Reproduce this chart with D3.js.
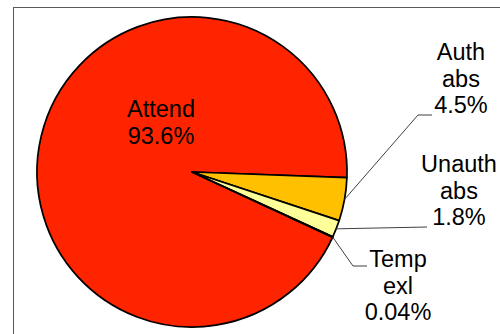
<!DOCTYPE html>
<html>
<head>
<meta charset="utf-8">
<script src="https://cdn.jsdelivr.net/npm/d3@7"></script>
<style>
  html, body { margin: 0; padding: 0; background: #fff; overflow: hidden; }
  svg { display: block; }
</style>
</head>
<body>
<svg id="chart" width="500" height="334"></svg>
<script>
// ---- data ----
const categories = ["Attend", "Auth abs", "Unauth abs", "Temp exl"];
const values = [93.6, 4.5, 1.8, 0.04];
const nameLines = [["Attend"], ["Auth", "abs"], ["Unauth", "abs"], ["Temp", "exl"]];
const colors = ["#ff2400", "#ffc000", "#ffff99", "#ffffcc"];

// ---- layout ----
const W = 500, H = 334;
const cx = 192, cy = 172, R = 155;
const startDeg = 114.9;
const fontSize = 23.5, lineH = 26.5;
// label placement: [centerX, firstBaselineY, leader polyline elbow points]
const labelPos = [
  { x: 161, y: 117, leader: null },
  { x: 461, y: 60,  leader: [[418, 115], [432, 115]] },
  { x: 459, y: 172, leader: [[427, 227]] },
  { x: 398, y: 267, leader: [[353, 266], [367, 266]] }
];

const svg = d3.select("#chart");

// plot area border (extends past the viewport on right and bottom)
svg.append("rect")
  .attr("x", 13.5).attr("y", 7.5)
  .attr("width", W + 10).attr("height", H + 10)
  .attr("fill", "#fff")
  .attr("stroke", "#595959").attr("stroke-width", 1);

const data = categories.map((c, i) => ({ name: c, value: values[i], i }));

const start = startDeg * Math.PI / 180;
const pie = d3.pie().sort(null).value(d => d.value)
  .startAngle(start).endAngle(start + 2 * Math.PI);
const arcs = pie(data);
const arc = d3.arc().innerRadius(0).outerRadius(R);

const g = svg.append("g").attr("transform", `translate(${cx},${cy})`);
g.selectAll("path.slice").data(arcs).enter().append("path")
  .attr("class", "slice")
  .attr("d", arc)
  .attr("fill", d => colors[d.data.i])
  .attr("stroke", "#000")
  .attr("stroke-width", 1.75)
  .attr("stroke-linejoin", "round");

// leader lines
arcs.forEach(a => {
  const lp = labelPos[a.data.i];
  if (!lp.leader) return;
  const mid = (a.startAngle + a.endAngle) / 2;
  const px = cx + R * Math.sin(mid), py = cy - R * Math.cos(mid);
  const pts = [[px, py]].concat(lp.leader);
  svg.append("path")
    .attr("d", d3.line()(pts))
    .attr("fill", "none")
    .attr("stroke", "#404040")
    .attr("stroke-width", 1);
});

// labels
arcs.forEach(a => {
  const lp = labelPos[a.data.i];
  const lines = nameLines[a.data.i].concat([a.data.value + "%"]);
  const t = svg.append("text")
    .attr("font-family", "'Liberation Sans', Arial, sans-serif")
    .attr("font-size", fontSize)
    .attr("fill", "#000")
    .attr("text-anchor", "middle");
  lines.forEach((ln, k) => {
    t.append("tspan").attr("x", lp.x).attr("y", lp.y + k * lineH).text(ln);
  });
});
</script>
</body>
</html>
